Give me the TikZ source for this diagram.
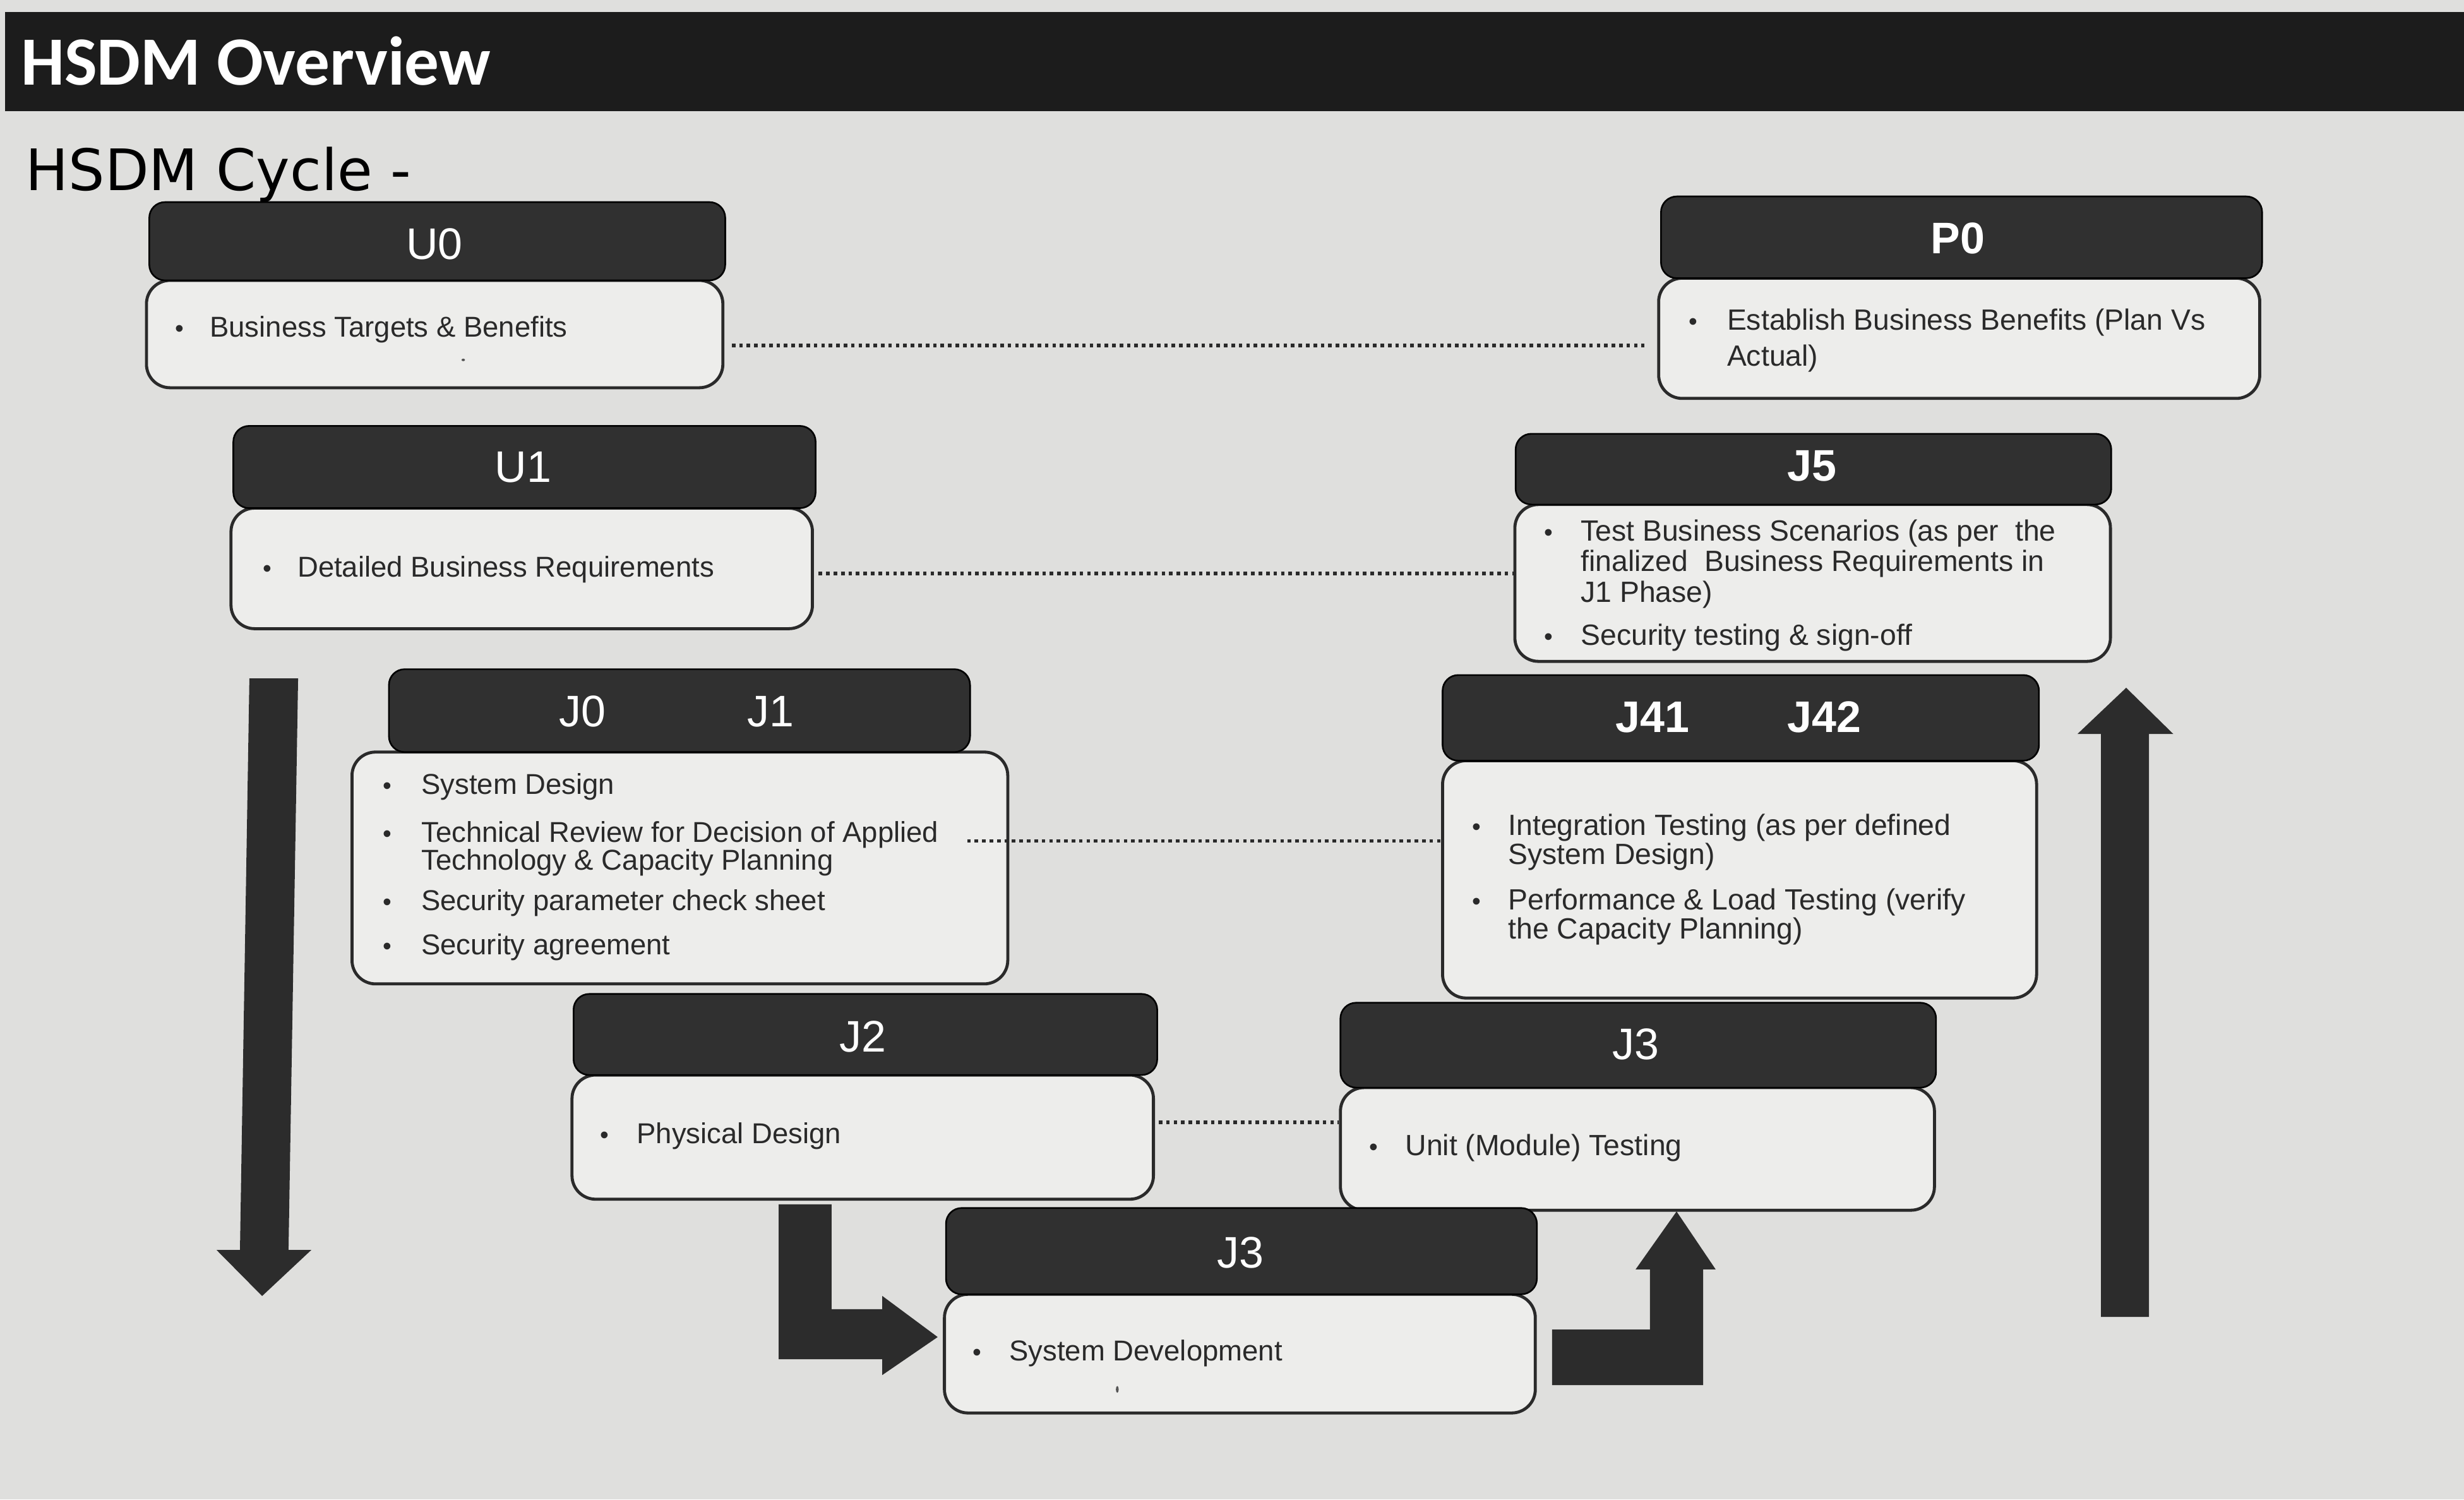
\documentclass[tikz,border=0pt]{standalone}
\usepackage{fontspec}
\setmainfont{Liberation Sans}
\newfontfamily\ovfont{Carlito}
\newfontfamily\cyfont{DejaVu Sans}
\usetikzlibrary{calc}
\definecolor{paper}{HTML}{DFDFDD}
\definecolor{boxfill}{HTML}{EDEDEB}
\definecolor{hdrfill}{HTML}{303030}
\definecolor{barfill}{HTML}{1C1C1C}
\definecolor{ink}{HTML}{2A2A2A}
\definecolor{arrowfill}{HTML}{2C2C2C}
\begin{document}
\begin{tikzpicture}[x=0.2mm,y=-0.2mm,
  hdr/.style={draw=black, line width=0.6pt, fill=hdrfill, rounded corners=2mm, inner sep=0pt},
  bodybox/.style={draw=ink, line width=1.1pt, fill=boxfill, rounded corners=3mm, inner sep=0pt},
  lab/.style={anchor=base, inner sep=0pt, text=white, font=\fontsize{16}{16}\selectfont},
  labb/.style={anchor=base, inner sep=0pt, text=white, font=\fontsize{16}{16}\selectfont\bfseries},
  txt/.style={anchor=base west, inner sep=0pt, text=ink, font=\fontsize{10.4}{11}\selectfont},
  txtr/.style={anchor=base west, inner sep=0pt, text=ink, font=\fontsize{10.6}{11}\selectfont},
  bul/.style={anchor=base, inner sep=0pt, text=ink, font=\fontsize{9}{9}\selectfont},
  dotline/.style={draw=ink, line width=1.3pt, dash pattern=on 1.3pt off 1.4pt},
  blockarrow/.style={fill=arrowfill, draw=none}
]
% canvas
\useasboundingbox (0,0) rectangle (1568,954);
\fill[paper] (0,0) rectangle (1568,954);

% title bar
\fill[barfill] (3.2,7.6) rectangle (1568,70.7);
\node[anchor=base west, inner sep=0pt, text=white, font=\ovfont\bfseries\fontsize{25}{25}\selectfont] (title) at (13,54.1) {HSDM Overview};
\node[anchor=base west, inner sep=0pt, text=black, font=\cyfont\fontsize{20.7}{20.7}\selectfont] (subtitle) at (16,121.2) {HSDM Cycle -};

% ---------- boxes: bodies then headers ----------
\node[bodybox, minimum width=73.36mm, minimum height=13.66mm] (u0b) at (276.6,212.55) {};
\node[hdr, minimum width=73.3mm, minimum height=9.96mm] (u0h) at (278.25,153.5) {};

\node[bodybox, minimum width=74mm, minimum height=15.34mm] (u1b) at (332,361.65) {};
\node[hdr, minimum width=74.1mm, minimum height=10.46mm] (u1h) at (333.75,297.15) {};

\node[bodybox, minimum width=76.5mm, minimum height=15.3mm] (p0b) at (1246.75,215.25) {};
\node[hdr, minimum width=76.5mm, minimum height=10.4mm] (p0h) at (1248.25,151) {};

\node[bodybox, minimum width=75.8mm, minimum height=19.96mm] (j5b) at (1153.5,370.9) {};
\node[hdr, minimum width=75.8mm, minimum height=9mm] (j5h) at (1154,298.5) {};

\node[bodybox, minimum width=83.46mm, minimum height=29.5mm] (j0b) at (432.65,552.25) {};
\node[hdr, minimum width=73.96mm, minimum height=10.54mm] (j0h) at (432.4,452.15) {};

\node[bodybox, minimum width=75.6mm, minimum height=30.2mm] (j41b) at (1107,559.5) {};
\node[hdr, minimum width=75.9mm, minimum height=10.9mm] (j41h) at (1107.75,456.75) {};

\node[bodybox, minimum width=74mm, minimum height=15.8mm] (j2b) at (549,723.5) {};
\node[hdr, minimum width=74.28mm, minimum height=10.32mm] (j2h) at (550.7,658.2) {};

\node[bodybox, minimum width=75.6mm, minimum height=15.6mm] (j3rb) at (1042,731) {};
\node[hdr, minimum width=75.8mm, minimum height=10.8mm] (j3rh) at (1042.5,665) {};

\node[bodybox, minimum width=75.2mm, minimum height=15.1mm] (j3bb) at (789,861.25) {};
\node[hdr, minimum width=75.2mm, minimum height=10.98mm] (j3bh) at (790,796.05) {};

% ---------- header labels ----------
\node[lab] (u0l) at (276.5,165) {U0};
\node[lab] (u1l) at (333,307) {U1};
\node[labb] (p0l) at (1246,161.2) {P0};
\node[labb] (j5l) at (1153.2,306.2) {J5};
\node[lab] (j0l) at (370.6,462.4) {J0};
\node[lab] (j1l) at (490.5,462.4) {J1};
\node[labb] (j41l) at (1051.7,465.8) {J41};
\node[labb] (j42l) at (1161,465.8) {J42};
\node[lab] (j2l) at (549,669.3) {J2};
\node[lab] (j3rl) at (1041,674) {J3};
\node[lab] (j3bl) at (789.2,806.5) {J3};

% ---------- body texts ----------
% U0
\node[bul] (u0d1) at (114.4,214.4) {•};
\node[txt] (u0t1) at (133.2,214.4) {Business Targets \& Benefits};
% P0
\node[bul] (p0d1) at (1077.6,209.9) {•};
\node[txtr] (p0t1) at (1098.7,209.9) {Establish Business Benefits (Plan Vs};
\node[txtr] (p0t2) at (1098.7,233) {Actual)};
% U1
\node[bul] (u1d1) at (170,367) {•};
\node[txt] (u1t1) at (189,367) {Detailed Business Requirements};
% J5
\node[bul] (j5d1) at (985.6,344) {•};
\node[txtr] (j5t1) at (1005.6,344) {Test Business Scenarios (as per\ \ the};
\node[txtr] (j5t2) at (1005.6,363.5) {finalized\ \ Business Requirements in};
\node[txtr] (j5t3) at (1005.6,383) {J1 Phase)};
\node[bul] (j5d2) at (985.6,410.3) {•};
\node[txtr] (j5t4) at (1005.6,410.3) {Security testing \& sign-off};
% J0 J1
\node[bul] (j0d1) at (246.6,505.5) {•};
\node[txt] (j0t1) at (267.8,505.5) {System Design};
\node[bul] (j0d2) at (246.6,536) {•};
\node[txt] (j0t2) at (267.8,536) {Technical Review for Decision of Applied};
\node[txt] (j0t3) at (267.8,553.5) {Technology \& Capacity Planning};
\node[bul] (j0d3) at (246.6,579.4) {•};
\node[txt] (j0t4) at (267.8,579.4) {Security parameter check sheet};
\node[bul] (j0d4) at (246.6,607.4) {•};
\node[txt] (j0t5) at (267.8,607.4) {Security agreement};
% J41 J42
\node[bul] (j41d1) at (939.6,531.5) {•};
\node[txtr] (j41t1) at (959.5,531.5) {Integration Testing (as per defined};
\node[txtr] (j41t2) at (959.5,549.8) {System Design)};
\node[bul] (j41d2) at (939.6,579) {•};
\node[txtr] (j41t3) at (959.5,579) {Performance \& Load Testing (verify};
\node[txtr] (j41t4) at (959.5,597.2) {the Capacity Planning)};
% J2
\node[bul] (j2d1) at (384.6,727.4) {•};
\node[txt] (j2t1) at (404.9,727.4) {Physical Design};
% J3 right
\node[bul] (j3rd1) at (874,735) {•};
\node[txtr] (j3rt1) at (894,735) {Unit (Module) Testing};
% J3 bottom
\node[bul] (j3bd1) at (622,865.6) {•};
\node[txt] (j3bt1) at (642,865.6) {System Development};
% stray marks
\fill[ink!80] (294.8,229) ellipse (1.1 and 0.8);
\fill[ink!80] (711,884) ellipse (0.9 and 2.2);

% ---------- dotted connectors ----------
\coordinate (d1) at (0,219.9);
\coordinate (d2) at (0,365);
\coordinate (d3) at (0,535);
\coordinate (d4) at (0,714);
\draw[dotline] ($(u0b.east |- d1)+(4.7,0)$) -- ($(p0b.west |- d1)+(-8,0)$);
\draw[dotline] ($(u1b.east |- d2)+(3,0)$) -- (j5b.west |- d2);
\draw[dotline] ($(j0b.east |- d3)+(-26.8,0)$) -- (j41b.west |- d3);
\draw[dotline] ($(j2b.east |- d4)+(2.4,0)$) -- (j3rb.west |- d4);

% ---------- block arrows ----------
\fill[blockarrow] (158.7,431.6) -- (189.7,431.6) -- (183.6,795.3) -- (198.1,795.3)
  -- (166.8,824.6) -- (137.8,795.3) -- (152.7,795.3) -- cycle;
\fill[blockarrow] (1337,837.9) -- (1367.5,837.9) -- (1367.5,467) -- (1383,467)
  -- (1353,437.6) -- (1322,467) -- (1337,467) -- cycle;
\fill[blockarrow] (495.5,766.3) -- (529.2,766.3) -- (529.2,833) -- (561.4,833)
  -- (561.4,824.5) -- (596.7,850.7) -- (561.4,874.9) -- (561.4,864.8) -- (495.5,864.8) -- cycle;
\fill[blockarrow] (987.7,845.9) -- (1050,845.9) -- (1050,807.7) -- (1040.8,807.7)
  -- (1066.9,770.8) -- (1091.8,807.7) -- (1083.8,807.7) -- (1083.8,881.3) -- (987.7,881.3) -- cycle;
\end{tikzpicture}
\end{document}
